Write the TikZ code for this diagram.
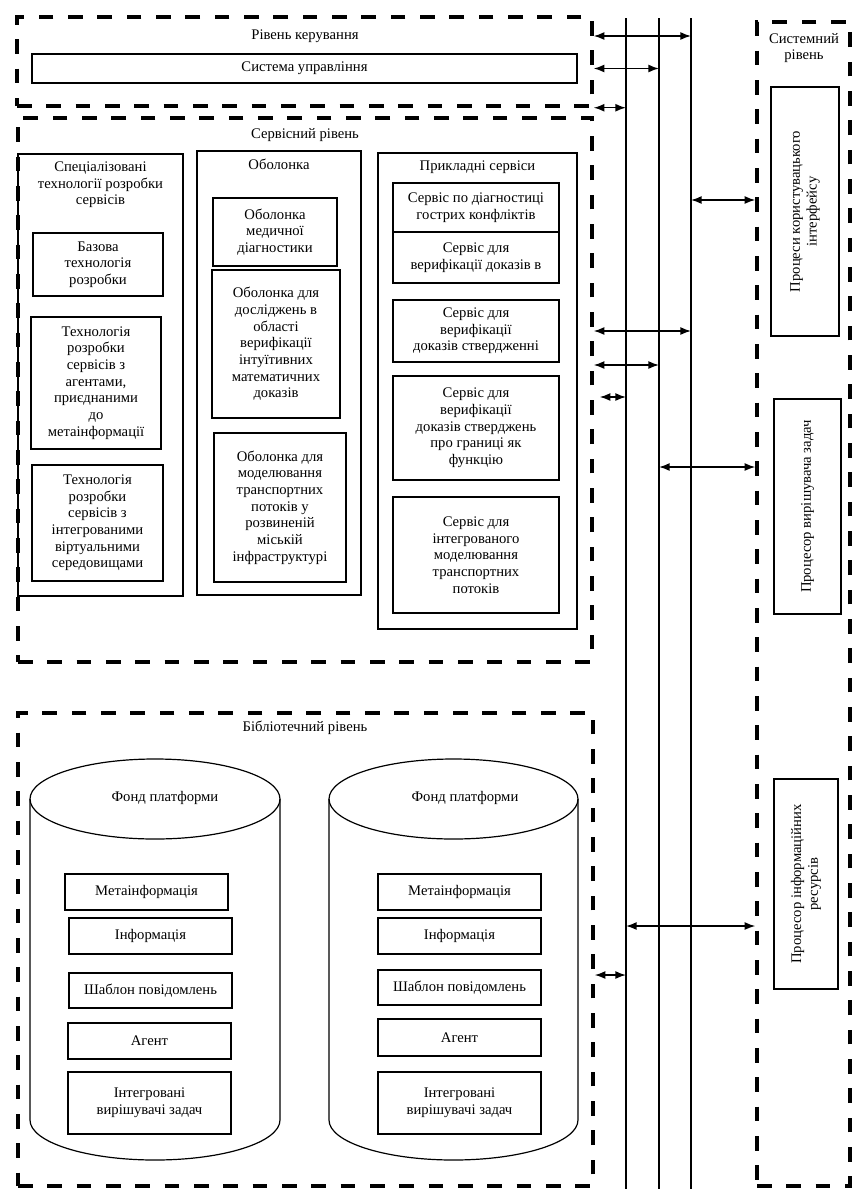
\documentclass[tikz,border=0pt]{standalone}
\usepackage{fontspec}
\setmainfont{Liberation Serif}
\usetikzlibrary{arrows.meta,positioning}

% box by its corners in pixels: name, x1, y1, x2, y2, text
\newcommand{\pxbox}[6]{%
  \node [box, minimum width={(#4-#2)*0.75pt}, minimum height={(#5-#3)*0.75pt}]
    (#1) at ({(#2+#4)/2}, {(#3+#5)/2}) {#6};}
\newcommand{\pxlevel}[5]{%
  \node [level, minimum width={(#4-#2)*0.75pt}, minimum height={(#5-#3)*0.75pt}]
    (#1) at ({(#2+#4)/2}, {(#3+#5)/2}) {};}

\begin{document}
\begin{tikzpicture}[x=0.75pt, y=-0.75pt, font=\fontsize{11}{12.5}\selectfont,
    level/.style={draw, line width=2.6pt, dash pattern=on 11pt off 11pt, inner sep=0pt},
    box/.style={draw, line width=1.3pt, inner sep=0pt, align=center},
    bus/.style={line width=0.9pt},
    cyl/.style={line width=0.9pt},
    link/.style={{Latex[length=8pt,width=6pt]}-{Latex[length=8pt,width=6pt]}, line width=1.1pt}]

  \useasboundingbox [fill=white] (0, 0) rectangle (854, 1189);

  \pxlevel{ctrl}{17}{17}{592}{106}
  \pxlevel{serv}{18}{118}{592}{662}
  \pxlevel{lib}{18}{713}{593}{1186}
  \pxlevel{sys}{757}{22}{850}{1186}

  \node (ctrltitle) at (305, 36) {Рівень керування};
  \node (servtitle) at (305, 135) {Сервісний рівень};
  \node (libtitle) at (305, 728) {Бібліотечний рівень};
  \node [align=center] (systitle) at (804, 48) {Системний\\рівень};

  \pxbox{sysctl}{32}{54}{577}{83}{Система управління}

  \pxbox{spec}{18}{154}{183}{596}{}
  \node [below, align=center] (spectitle) at ([yshift=-3pt]spec.north) {Спеціалізовані\\технології розробки\\сервісів};
  \pxbox{basetech}{33}{233}{163}{296}{Базова\\технологія\\розробки}
  \pxbox{agenttech}{31}{317}{161}{449}{Технологія\\розробки\\сервісів з\\агентами,\\приєднаними\\до\\метаінформації}
  \pxbox{virttech}{32}{465}{163}{581}{Технологія\\розробки\\сервісів з\\інтегрованими\\віртуальними\\середовищами}

  \pxbox{shell}{197}{151}{361}{595}{}
  \node [below] (shelltitle) at ([yshift=-3pt]shell.north) {Оболонка};
  \pxbox{medshell}{213}{198}{337}{266}{Оболонка\\медичної\\діагностики}
  \pxbox{proofshell}{212}{270}{340}{418}{Оболонка для\\досліджень в\\області\\верифікації\\інтуїтивних\\математичних\\доказів}
  \pxbox{trafshell}{214}{433}{346}{582}{Оболонка для\\моделювання\\транспортних\\потоків у\\розвиненій\\міській\\інфраструктурі}

  \pxbox{apps}{378}{153}{577}{629}{}
  \node [below] (appstitle) at ([yshift=-3pt]apps.north) {Прикладні сервіси};
  \pxbox{conflict}{393}{183}{559}{232}{Сервіс по діагностиці\\гострих конфліктів}
  \pxbox{verin}{393}{232}{559}{283}{Сервіс для\\верифікації доказів в}
  \pxbox{verclaim}{393}{300}{559}{362}{Сервіс для\\верифікації\\доказів ствердженні}
  \pxbox{verlimit}{393}{376}{559}{480}{Сервіс для\\верифікації\\доказів стверджень\\про границі як\\функцію}
  \pxbox{trafmodel}{393}{497}{559}{613}{Сервіс для\\інтегрованого\\моделювання\\транспортних\\потоків}

  \pxbox{ui}{771}{87}{839}{336}{}
  \node [rotate=90, align=center] (uitext) at (ui.center) {Процеси користувацького\\інтерфейсу};
  \pxbox{solver}{774}{399}{841}{614}{}
  \node [rotate=90] (solvertext) at (solver.center) {Процесор вирішувача задач};
  \pxbox{res}{774}{779}{838}{989}{}
  \node [rotate=90, align=center] (restext) at (res.center) {Процесор інформаційних\\ресурсів};

  \draw [cyl] (155, 799) ellipse [x radius=125, y radius=40];
  \draw [cyl] (30, 799) -- (30, 1120) arc [start angle=180, end angle=0, x radius=125, y radius=40] -- (280, 799);
  \draw [cyl] (453.5, 799) ellipse [x radius=124.5, y radius=40];
  \draw [cyl] (329, 799) -- (329, 1120) arc [start angle=180, end angle=0, x radius=124.5, y radius=40] -- (578, 799);

  \node (fundL) at (165, 798) {Фонд платформи};
  \pxbox{metaL}{65}{874}{228}{910}{Метаінформація}
  \pxbox{infoL}{69}{918}{232}{954}{Інформація}
  \pxbox{tmplL}{69}{973}{232}{1008}{Шаблон повідомлень}
  \pxbox{agentL}{68}{1023}{231}{1059}{Агент}
  \pxbox{solveL}{68}{1072}{231}{1134}{Інтегровані\\вирішувачі задач}

  \node (fundR) at (465, 798) {Фонд платформи};
  \pxbox{metaR}{378}{874}{541}{910}{Метаінформація}
  \pxbox{infoR}{378}{918}{541}{954}{Інформація}
  \pxbox{tmplR}{378}{970}{541}{1005}{Шаблон повідомлень}
  \pxbox{agentR}{378}{1019}{541}{1056}{Агент}
  \pxbox{solveR}{378}{1072}{541}{1134}{Інтегровані\\вирішувачі задач}

  \coordinate (busAtop) at (626, 18);
  \coordinate (busAbot) at (626, 1189);
  \coordinate (busBtop) at (659, 18);
  \coordinate (busBbot) at (659, 1189);
  \coordinate (busCtop) at (691, 18);
  \coordinate (busCbot) at (691, 1189);
  \draw [bus] (busAtop) -- (busAbot);
  \draw [bus] (busBtop) -- (busBbot);
  \draw [bus] (busCtop) -- (busCbot);

  \draw [link] (ctrl.east |- ctrltitle) -- (busCtop |- ctrltitle);
  \draw [link] (ctrl.east |- sysctl) -- (busBtop |- sysctl);
  \draw [link] (ctrl.south east) -- (busAtop |- ctrl.south east);
  \draw [link] (serv.east |- 0, 331) -- (busCtop |- 0, 331);
  \draw [link] (serv.east |- 0, 365) -- (busBtop |- 0, 365);
  \draw [link] ([xshift=4.5pt]serv.east |- 0, 397) -- (busAtop |- 0, 397);
  \draw [link] (lib.east |- 0, 975) -- (busAtop |- 0, 975);
  \draw [link] (busCtop |- 0, 200) -- (sys.west |- 0, 200);
  \draw [link] (busBtop |- 0, 467) -- (sys.west |- 0, 467);
  \draw [link] (busAtop |- 0, 926) -- (sys.west |- 0, 926);
\end{tikzpicture}
\end{document}
